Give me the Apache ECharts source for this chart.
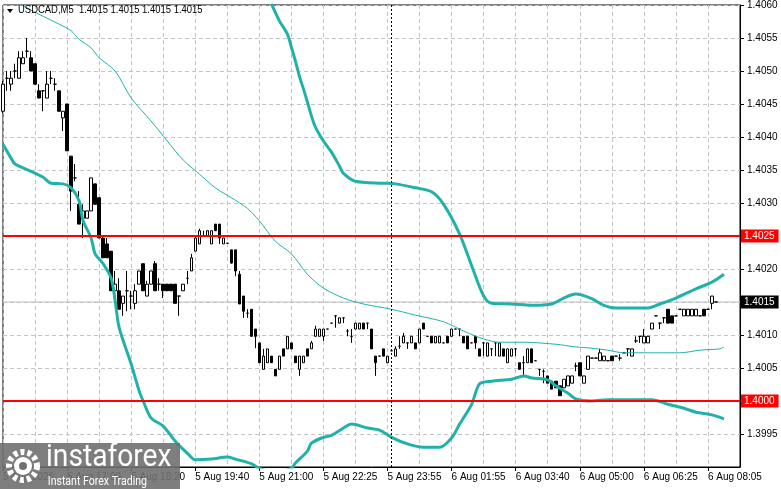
<!DOCTYPE html>
<html>
<head>
<meta charset="utf-8">
<script src="https://cdn.jsdelivr.net/npm/echarts@6/dist/echarts.min.js"></script>
<style>
html, body { margin: 0; padding: 0; background: #fff; }
#chart { width: 781px; height: 489px; }
</style>
</head>
<body>
<div id="chart"></div>
<script>
// USDCAD M5 bars
var opens = [
	1.40439,1.40489,1.40480,1.40500,1.40489,1.40511,1.40530,1.40520,1.40511,1.40470,
	1.40470,1.40459,1.40489,1.40480,1.40470,1.40429,1.40450,1.40371,1.40338,1.40298,
	1.40277,1.40277,1.40288,1.40329,1.40308,1.40247,1.40238,1.40227,1.40167,1.40167,
	1.40148,1.40167,1.40159,1.40148,1.40177,1.40208,1.40159,1.40177,1.40208,1.40177,
	1.40177,1.40177,1.40177,1.40177,1.40159,1.40167,1.40186,1.40197,1.40227,1.40238,
	1.40250,1.40250,1.40238,1.40268,1.40268,1.40238,1.40239,1.40229,1.40229,1.40192,
	1.40159,1.40133,1.40139,1.40109,1.40088,1.40048,1.40058,1.40068,1.40048,1.40048,
	1.40079,1.40079,1.40088,1.40068,1.40048,1.40058,1.40079,1.40079,1.40098,1.40098,
	1.40098,1.40109,1.40118,1.40129,1.40118,1.40126,1.40106,1.40098,1.40109,1.40109,
	1.40118,1.40118,1.40109,1.40068,1.40068,1.40079,1.40058,1.40076,1.40068,1.40083,
	1.40088,1.40088,1.40088,1.40088,1.40088,1.40118,1.40098,1.40098,1.40088,1.40088,
	1.40088,1.40098,1.40098,1.40109,1.40109,1.40098,1.40098,1.40088,1.40098,1.40079,
	1.40088,1.40068,1.40079,1.40088,1.40068,1.40079,1.40058,1.40068,1.40079,1.40058,
	1.40058,1.40058,1.40079,1.40061,1.40048,1.40045,1.40038,1.40030,1.40030,1.40023,
	1.40020,1.40023,1.40027,1.40053,1.40058,1.40027,1.40048,1.40065,1.40065,1.40061,
	1.40061,1.40061,1.40068,1.40068,1.40065,1.40073,1.40079,1.40068,1.40091,1.40098,
	1.40088,1.40088,1.40109,1.40129,1.40118,1.40126,1.40139,1.40129,1.40129,1.40139,
	1.40129,1.40129,1.40129,1.40129,1.40129,1.40139,1.40139,1.40148,1.40150
];
var closes = [
	1.40480,1.40489,1.40489,1.40500,1.40520,1.40520,1.40530,1.40500,1.40480,1.40459,
	1.40470,1.40480,1.40489,1.40480,1.40439,1.40439,1.40379,1.40318,1.40338,1.40268,
	1.40288,1.40288,1.40338,1.40298,1.40247,1.40217,1.40217,1.40167,1.40177,1.40139,
	1.40159,1.40167,1.40159,1.40167,1.40197,1.40167,1.40177,1.40197,1.40167,1.40177,
	1.40167,1.40167,1.40167,1.40148,1.40159,1.40177,1.40186,1.40217,1.40247,1.40258,
	1.40250,1.40258,1.40258,1.40258,1.40247,1.40247,1.40239,1.40209,1.40197,1.40147,
	1.40136,1.40133,1.40098,1.40098,1.40058,1.40068,1.40079,1.40058,1.40038,1.40068,
	1.40068,1.40098,1.40079,1.40058,1.40068,1.40068,1.40068,1.40088,1.40109,1.40109,
	1.40109,1.40109,1.40118,1.40129,1.40126,1.40126,1.40106,1.40098,1.40118,1.40118,
	1.40109,1.40118,1.40079,1.40058,1.40068,1.40068,1.40068,1.40076,1.40079,1.40083,
	1.40098,1.40088,1.40098,1.40079,1.40109,1.40109,1.40098,1.40088,1.40098,1.40098,
	1.40088,1.40088,1.40109,1.40109,1.40109,1.40088,1.40079,1.40088,1.40088,1.40068,
	1.40088,1.40088,1.40079,1.40088,1.40088,1.40068,1.40079,1.40079,1.40079,1.40048,
	1.40058,1.40079,1.40058,1.40061,1.40048,1.40045,1.40027,1.40018,1.40020,1.40008,
	1.40033,1.40038,1.40038,1.40053,1.40038,1.40038,1.40068,1.40065,1.40065,1.40073,
	1.40068,1.40061,1.40061,1.40068,1.40065,1.40073,1.40079,1.40079,1.40091,1.40098,
	1.40098,1.40098,1.40118,1.40129,1.40118,1.40126,1.40118,1.40118,1.40129,1.40139,
	1.40139,1.40139,1.40139,1.40139,1.40129,1.40129,1.40139,1.40159,1.40150
];
var lows = [
	1.40436,1.40470,1.40470,1.40489,1.40489,1.40511,1.40520,1.40500,1.40480,1.40459,
	1.40439,1.40459,1.40480,1.40470,1.40439,1.40409,1.40379,1.40288,1.40333,1.40268,
	1.40247,1.40277,1.40288,1.40298,1.40247,1.40217,1.40217,1.40167,1.40156,1.40139,
	1.40129,1.40136,1.40139,1.40139,1.40177,1.40167,1.40159,1.40177,1.40167,1.40167,
	1.40156,1.40167,1.40167,1.40148,1.40129,1.40167,1.40177,1.40197,1.40227,1.40238,
	1.40250,1.40250,1.40238,1.40258,1.40238,1.40238,1.40239,1.40208,1.40189,1.40147,
	1.40126,1.40126,1.40098,1.40080,1.40058,1.40048,1.40058,1.40058,1.40038,1.40048,
	1.40068,1.40079,1.40079,1.40058,1.40038,1.40058,1.40068,1.40079,1.40098,1.40098,
	1.40091,1.40109,1.40118,1.40111,1.40118,1.40118,1.40098,1.40088,1.40109,1.40109,
	1.40109,1.40109,1.40079,1.40038,1.40068,1.40068,1.40058,1.40076,1.40068,1.40079,
	1.40088,1.40079,1.40088,1.40079,1.40088,1.40109,1.40098,1.40088,1.40088,1.40088,
	1.40088,1.40088,1.40098,1.40109,1.40098,1.40088,1.40079,1.40088,1.40079,1.40068,
	1.40068,1.40068,1.40068,1.40068,1.40068,1.40068,1.40058,1.40068,1.40068,1.40048,
	1.40038,1.40058,1.40058,1.40061,1.40038,1.40027,1.40027,1.40018,1.40020,1.40008,
	1.40020,1.40023,1.40027,1.40045,1.40038,1.40027,1.40048,1.40065,1.40065,1.40061,
	1.40061,1.40061,1.40061,1.40068,1.40061,1.40073,1.40068,1.40068,1.40088,1.40088,
	1.40088,1.40088,1.40109,1.40129,1.40109,1.40118,1.40118,1.40118,1.40129,1.40139,
	1.40129,1.40129,1.40129,1.40129,1.40129,1.40129,1.40139,1.40139,1.40150
];
var highs = [
	1.40485,1.40500,1.40500,1.40511,1.40530,1.40530,1.40550,1.40530,1.40511,1.40480,
	1.40470,1.40500,1.40500,1.40489,1.40470,1.40439,1.40450,1.40371,1.40359,1.40318,
	1.40298,1.40288,1.40338,1.40329,1.40308,1.40250,1.40247,1.40227,1.40197,1.40186,
	1.40159,1.40197,1.40167,1.40177,1.40197,1.40208,1.40182,1.40197,1.40212,1.40186,
	1.40177,1.40177,1.40177,1.40177,1.40159,1.40177,1.40197,1.40223,1.40250,1.40261,
	1.40258,1.40258,1.40258,1.40268,1.40268,1.40247,1.40239,1.40229,1.40229,1.40197,
	1.40159,1.40139,1.40139,1.40109,1.40088,1.40079,1.40079,1.40068,1.40048,1.40068,
	1.40079,1.40098,1.40088,1.40068,1.40068,1.40068,1.40079,1.40091,1.40114,1.40109,
	1.40109,1.40109,1.40118,1.40129,1.40126,1.40126,1.40109,1.40109,1.40118,1.40118,
	1.40118,1.40118,1.40109,1.40068,1.40068,1.40079,1.40068,1.40076,1.40083,1.40098,
	1.40103,1.40088,1.40098,1.40088,1.40109,1.40118,1.40098,1.40098,1.40098,1.40098,
	1.40088,1.40098,1.40109,1.40109,1.40109,1.40098,1.40098,1.40088,1.40098,1.40079,
	1.40088,1.40088,1.40079,1.40088,1.40088,1.40079,1.40079,1.40079,1.40079,1.40058,
	1.40068,1.40079,1.40079,1.40061,1.40048,1.40048,1.40038,1.40030,1.40030,1.40023,
	1.40033,1.40038,1.40038,1.40058,1.40058,1.40038,1.40068,1.40065,1.40065,1.40079,
	1.40068,1.40061,1.40068,1.40068,1.40071,1.40073,1.40079,1.40079,1.40098,1.40098,
	1.40109,1.40098,1.40118,1.40129,1.40118,1.40126,1.40139,1.40129,1.40129,1.40139,
	1.40139,1.40139,1.40139,1.40139,1.40129,1.40139,1.40139,1.40159,1.40150
];

// Bollinger bands, [bar index, price]
var upperBand = [
	[67,1.40602],[69,1.40576],[71,1.40556],[72,1.40536],[73,1.40515],[74,1.40492],[75,1.40473],
	[76,1.40453],[77,1.40432],[78,1.40415],[80,1.40394],[82,1.40377],[84,1.40356],[85,1.40345],
	[88,1.40333],[95,1.40330],[98,1.40329],[103,1.40323],[107,1.40317],[110,1.40298],[114,1.40253],
	[117,1.40205],[120,1.40159],[122,1.40148],[127,1.40147],[132,1.40145],[137,1.40147],[140,1.40156],
	[143,1.40162],[147,1.40155],[150,1.40145],[153,1.40141],[161,1.40141],[164,1.40147],[168,1.40156],
	[173,1.40170],[177,1.40180],[180,1.40192]
];
var middleBand = [
	[4,1.40602],[9,1.40586],[14,1.40571],[17,1.40561],[19,1.40548],[22,1.40535],[24,1.40520],
	[28,1.40500],[32,1.40459],[37,1.40424],[41,1.40394],[45,1.40365],[49,1.40344],[53,1.40323],
	[57,1.40308],[61,1.40292],[64,1.40273],[68,1.40242],[72,1.40223],[76,1.40192],[80,1.40171],
	[85,1.40156],[90,1.40147],[97,1.40139],[103,1.40130],[110,1.40120],[115,1.40106],[120,1.40094],
	[124,1.40089],[130,1.40089],[138,1.40086],[143,1.40082],[147,1.40080],[151,1.40077],[155,1.40073],
	[163,1.40073],[169,1.40073],[174,1.40077],[179,1.40079],[180,1.40082]
];
var lowerBand = [
	[0,1.40389],[2,1.40368],[3,1.40359],[7,1.40348],[10,1.40339],[12,1.40330],[15,1.40329],
	[17,1.40323],[19,1.40303],[20,1.40273],[22,1.40247],[23,1.40223],[25,1.40208],[27,1.40186],
	[28,1.40152],[29,1.40111],[32,1.40056],[34,1.40015],[35,1.40000],[37,1.39974],[40,1.39962],
	[43,1.39939],[46,1.39921],[48,1.39911],[52,1.39912],[56,1.39915],[58,1.39912],[62,1.39905],
	[64,1.39898],[68,1.39892],[72,1.39898],[73,1.39906],[76,1.39924],[77,1.39936],[80,1.39945],
	[82,1.39948],[85,1.39959],[87,1.39965],[91,1.39959],[94,1.39956],[97,1.39945],[101,1.39935],
	[105,1.39930],[109,1.39930],[112,1.39944],[114,1.39965],[117,1.39995],[119,1.40026],[122,1.40030],
	[127,1.40033],[130,1.40038],[132,1.40035],[136,1.40032],[138,1.40023],[141,1.40012],[143,1.40003],
	[147,1.40000],[151,1.40002],[162,1.40002],[166,1.39995],[170,1.39989],[173,1.39983],[177,1.39979],
	[180,1.39973]
];

// time labels, one every 16 bars
var tickLabels = ['5 Aug 2026', '5 Aug 17:00', '5 Aug 18:20', '5 Aug 19:40', '5 Aug 21:00', '5 Aug 22:25',
	'5 Aug 23:55', '6 Aug 01:55', '6 Aug 03:40', '6 Aug 05:00', '6 Aug 06:25', '6 Aug 08:05'];
var levels = [1.4025, 1.4000];
var lastPrice = 1.4015;
var separatorBar = 97;
var slotCount = 185;

var font = "'Liberation Sans', Arial, sans-serif";
var fontSize = 10;

var cats = [];
for (var i = 0; i < slotCount; i++) cats.push(String(i));

var candles = [];
for (var i = 0; i < opens.length; i++) {
	candles.push([opens[i], closes[i], lows[i], highs[i]]);
}

// horizontal price line across the whole chart, with its price boxed on the axis
function levelSeries(v, color, width, bg, z) {
	return {
		type: 'line',
		data: [[0, v], [slotCount - 1, v]],
		silent: true,
		showSymbol: false,
		symbol: 'none',
		z: z,
		lineStyle: { color: color, width: width },
		endLabel: {
			show: true,
			distance: 1,
			formatter: function() { return v.toFixed(4); },
			color: '#fff',
			backgroundColor: bg,
			padding: [2, 4, 1, 3],
			fontSize: fontSize,
			fontFamily: font
		}
	};
}

function every(n) {
	return function(idx) { return idx % n === 0; };
}

var series = [
	levelSeries(lastPrice, '#c0c0c0', 1, '#000', 1),
	{
		type: 'candlestick',
		data: candles,
		barWidth: 3,
		itemStyle: {
			color: '#fff',
			color0: '#000',
			borderColor: '#000',
			borderColor0: '#000',
			borderColorDoji: '#000',
			borderWidth: 1
		},
		markLine: {
			silent: true,
			symbol: ['none', 'none'],
			animation: false,
			lineStyle: { color: '#000', width: 1, type: [2, 2] },
			label: { show: false },
			data: [{ xAxis: separatorBar }]
		},
		z: 2
	}, {
		type: 'line',
		data: upperBand,
		smooth: 0.3,
		showSymbol: false,
		lineStyle: { color: '#20b2aa', width: 3 },
		z: 3
	}, {
		type: 'line',
		data: middleBand,
		smooth: 0.3,
		showSymbol: false,
		lineStyle: { color: '#20b2aa', width: 1 },
		z: 3
	}, {
		type: 'line',
		data: lowerBand,
		smooth: 0.3,
		showSymbol: false,
		lineStyle: { color: '#20b2aa', width: 3 },
		z: 3
	}
];
levels.forEach(function(v) {
	series.push(levelSeries(v, '#ff0000', 2, '#ff0000', 4));
});

var chart = echarts.init(document.getElementById('chart'));
chart.setOption({
	animation: false,
	backgroundColor: '#fff',
	grid: {
		left: 3, right: 41, top: 3, bottom: 22,
		show: true, borderColor: '#000', borderWidth: 1
	},
	xAxis: {
		type: 'category',
		data: cats,
		boundaryGap: false,
		axisLine: { show: true, lineStyle: { color: '#000' } },
		axisTick: { show: true, interval: every(16), length: 4, lineStyle: { color: '#000' } },
		axisLabel: {
			interval: every(16),
			align: 'left',
			margin: 5,
			color: '#000',
			fontSize: fontSize,
			fontFamily: font,
			formatter: function(v, idx) { return tickLabels[idx / 16] || ''; }
		},
		splitLine: { show: true, interval: every(8), lineStyle: { color: '#c4c4c4', type: [4, 3] } }
	},
	yAxis: {
		type: 'value',
		position: 'right',
		min: 1.3990,
		max: 1.4060,
		interval: 0.0005,
		axisLine: { show: true, lineStyle: { color: '#000' } },
		axisTick: { show: true, length: 4, lineStyle: { color: '#000' } },
		axisLabel: {
			showMinLabel: false,
			margin: 7,
			color: '#000',
			fontSize: fontSize,
			fontFamily: font,
			formatter: function(v) { return v.toFixed(4); }
		},
		splitLine: { show: true, lineStyle: { color: '#c4c4c4', type: [4, 3] } }
	},
	series: series,
	graphic: [
		{ type: 'polygon', z: 100, shape: { points: [[7, 9], [13, 9], [10, 13]] }, style: { fill: '#000' } },
		{ type: 'group', z: 100, x: 18, y: 4, scaleX: 0.86, children: [
			{ type: 'text', z: 100, x: 0, y: 0,
				style: { text: 'USDCAD,M5  1.4015 1.4015 1.4015 1.4015', fill: '#000', font: '11px ' + font } }
		] },
		// instaforex watermark
		{ type: 'rect', z: 100, shape: { x: 0, y: 443, width: 180, height: 46 }, style: { fill: 'rgba(112,112,112,0.9)' } },
		{ type: 'circle', z: 101, shape: { cx: 23, cy: 466, r: 14 }, style: { fill: 'none', stroke: '#fff', lineWidth: 6, lineDash: [4, 3] } },
		{ type: 'circle', z: 101, shape: { cx: 23, cy: 466, r: 9 }, style: { fill: '#fff' } },
		{ type: 'circle', z: 102, shape: { cx: 23, cy: 466, r: 4 }, style: { fill: 'rgb(112,112,112)' } },
		{ type: 'group', z: 101, x: 46, y: 442, scaleX: 0.88, children: [
			{ type: 'text', z: 101, x: 0, y: 0, style: { text: 'instaforex', fill: '#fff', font: '32px Roboto, sans-serif' } },
			{ type: 'text', z: 101, x: 2, y: 34, style: { text: 'Instant Forex Trading', fill: '#fff', font: '12px Roboto, sans-serif' } }
		] }
	]
});
</script>
</body>
</html>
